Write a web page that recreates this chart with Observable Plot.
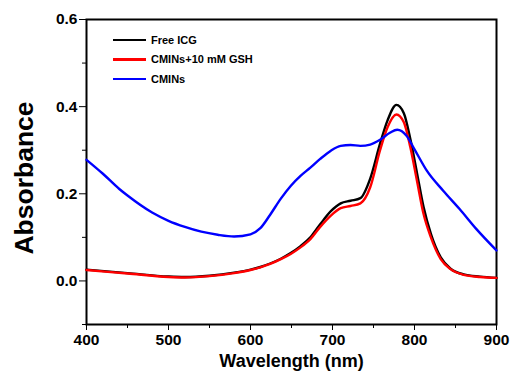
<!DOCTYPE html>
<html><head><meta charset="utf-8">
<script src="https://cdn.jsdelivr.net/npm/d3@7"></script>
<script src="https://cdn.jsdelivr.net/npm/@observablehq/plot@0.6"></script>
<style>
body{margin:0;background:#fff;}
#wrap{position:relative;width:510px;height:377px;font-family:"Liberation Sans",Arial,sans-serif;font-weight:bold;}
#legend{position:absolute;left:113px;top:30px;font-size:11px;}
.item{display:flex;align-items:center;height:19.5px;}
.sw{width:33px;height:2.5px;margin-right:5px;}
</style></head>
<body><div id="wrap"><div id="legend"></div></div>
<script>
const seriesNames = ["Free ICG", "CMINs+10 mM GSH", "CMINs"];
const seriesColors = ["#000000", "#ff0000", "#0000ff"];

const freeICG_x = [400,450,500,520,550,580,600,612,624,637,649,661,673,685,698,710,722,734,746,758,767,778,787,795,803,811,820,832,844,860,880,900];
const freeICG_y = [0.026,0.018,0.010,0.009,0.012,0.019,0.026,0.032,0.040,0.051,0.064,0.080,0.100,0.130,0.160,0.178,0.184,0.190,0.235,0.315,0.368,0.404,0.385,0.325,0.248,0.170,0.108,0.054,0.028,0.015,0.010,0.007];

const gsh_x = [400,450,500,520,550,580,600,612,624,637,649,661,673,685,698,710,722,734,746,758,767,778,787,795,803,811,820,832,844,860,880,900];
const gsh_y = [0.025,0.017,0.009,0.008,0.011,0.018,0.025,0.031,0.039,0.050,0.062,0.077,0.096,0.124,0.150,0.167,0.172,0.178,0.215,0.300,0.352,0.382,0.364,0.306,0.230,0.154,0.100,0.050,0.027,0.014,0.009,0.007];

const cmins_x = [400,420,440,450,480,500,520,540,560,580,600,612,624,637,649,661,673,685,698,710,722,734,746,758,770,779,790,800,815,835,855,875,900];
const cmins_y = [0.278,0.246,0.211,0.196,0.157,0.138,0.124,0.113,0.106,0.102,0.107,0.121,0.152,0.189,0.218,0.241,0.260,0.280,0.299,0.310,0.312,0.310,0.313,0.324,0.340,0.347,0.334,0.302,0.253,0.207,0.165,0.120,0.070];

const xTicks = [400,500,600,700,800,900];
const xMinor = [450,550,650,750,850];
const yTicks = [0.0,0.2,0.4,0.6];
const yMinor = [-0.1,0.1,0.3,0.5];

const mk = (xs, ys, s) => xs.map((x,i)=>({w:x, a:ys[i], s}));
const data = [
  ...mk(freeICG_x, freeICG_y, seriesNames[0]),
  ...mk(gsh_x, gsh_y, seriesNames[1]),
  ...mk(cmins_x, cmins_y, seriesNames[2])
];

const chart = Plot.plot({
  width: 510, height: 377,
  marginLeft: 86, marginRight: 14, marginTop: 19, marginBottom: 53,
  style: {fontFamily: '"Liberation Sans", Arial, sans-serif', fontWeight: "bold", fontSize: "15.5px", color: "#000", background: "#fff"},
  x: {domain: [400, 900]},
  y: {domain: [-0.1, 0.6]},
  color: {domain: seriesNames, range: seriesColors},
  marks: [
    Plot.axisX(xMinor, {tickSize: 4, tickWidth: 1.5, text: null, label: null}),
    Plot.axisX(xTicks, {tickSize: 6, tickWidth: 2, tickPadding: 3, fontSize: 15.5, tickFormat: d => d, label: "Wavelength (nm)", labelAnchor: "center", labelArrow: "none", labelOffset: 42}),
    Plot.axisY(yMinor, {tickSize: 4, tickWidth: 1.5, text: null, label: null}),
    Plot.axisY(yTicks, {tickSize: 7, tickWidth: 2, tickPadding: 2, fontSize: 15.5, tickFormat: d3.format(".1f"), label: null}),
    Plot.frame({stroke: "#000", strokeWidth: 2}),
    Plot.line(data, {x: "w", y: "a", stroke: "s", z: "s", strokeWidth: 2.4, curve: "monotone-x"})
  ]
});
chart.querySelectorAll('[aria-label="x-axis label"] text').forEach(t => t.setAttribute("font-size", "18"));
document.getElementById("wrap").appendChild(chart);

// y-axis title
const svg = d3.select(chart);
svg.append("text")
  .attr("transform", "translate(33,178) rotate(-90)")
  .attr("text-anchor", "middle")
  .attr("font-size", 26.5)
  .attr("font-weight", "bold")
  .attr("fill", "#000")
  .text("Absorbance");

const lg = document.getElementById("legend");
seriesNames.forEach((n,i)=>{
  const it = document.createElement("div"); it.className="item";
  const sw = document.createElement("div"); sw.className="sw"; sw.style.background = seriesColors[i];
  const tx = document.createElement("span"); tx.textContent = n;
  it.appendChild(sw); it.appendChild(tx); lg.appendChild(it);
});
</script>
</body></html>
